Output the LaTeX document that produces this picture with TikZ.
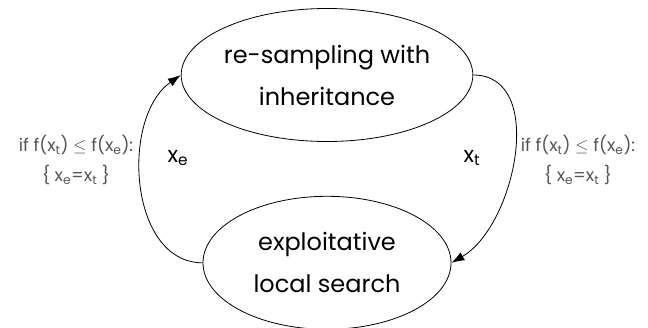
\documentclass[tikz,border=0pt]{standalone}
\usepackage{fontspec}
\setmainfont{Poppins}
\usepackage{tikz}
\usetikzlibrary{shapes.geometric, arrows.meta, positioning}
\definecolor{condgray}{RGB}{85, 85, 85}

\begin{document}
\begin{tikzpicture}[
    x=1pt, y=1pt,
    node distance=54pt and 54pt,
    stage/.style={ellipse, draw=black, line width=0.8pt, align=center, minimum width=248pt, minimum height=133pt, inner sep=0pt, font=\fontsize{24}{42}\selectfont},
    cond/.style={align=center, text=condgray, font=\fontsize{17.5}{30}\selectfont},
    varlbl/.style={font=\fontsize{22}{26}\selectfont},
    arrow/.style={-{Latex[length=13pt, width=9pt]}, line width=0.8pt, draw=black}
]
    \useasboundingbox (0,0) rectangle (648,-327);

    \node[stage] (resample) at (327,-75) {re-sampling with\\inheritance};
    \node[stage, below=54pt of resample] (localsearch) {exploitative\\local search};

    \node[varlbl] (lblxe) at (178,-158) {x\textsubscript{e}};
    \node[varlbl] (lblxt) at (472,-158) {x\textsubscript{t}};

    \node[cond] (condleft) at (76,-160) {if f(x\textsubscript{t}) $\leq$ f(x\textsubscript{e}):\\\{ x\textsubscript{e}=x\textsubscript{t} \}};
    \node[cond] (condright) at (578,-160) {if f(x\textsubscript{t}) $\leq$ f(x\textsubscript{e}):\\\{ x\textsubscript{e}=x\textsubscript{t} \}};

    \draw[arrow] (localsearch.west) to[out=180, in=215] (resample.west);
    \draw[arrow] (resample.east) to[out=0, in=30] (localsearch.east);
\end{tikzpicture}
\end{document}
